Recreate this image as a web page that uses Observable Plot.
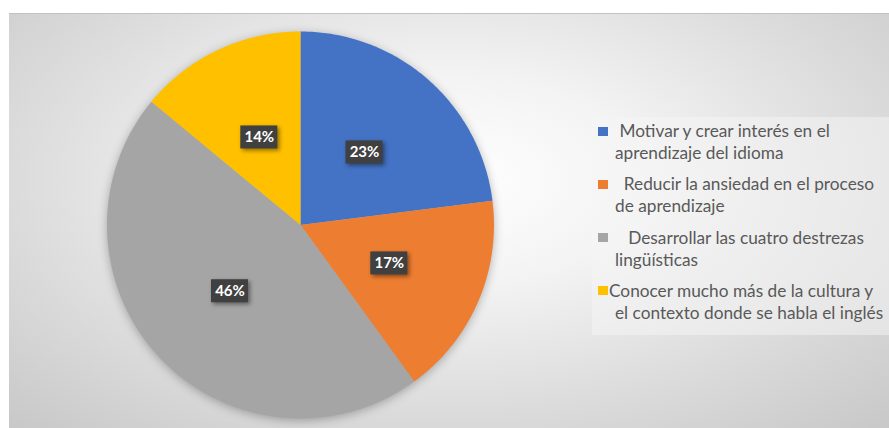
<!DOCTYPE html>
<html>
<head>
<meta charset="utf-8">
<script src="https://cdn.jsdelivr.net/npm/d3@7"></script>
<script src="https://cdn.jsdelivr.net/npm/@observablehq/plot@0.6"></script>
<style>
  html, body { margin: 0; padding: 0; background: #ffffff; }
  #wrap { position: relative; width: 889px; height: 428px; overflow: hidden; background: #fff; }
  #area { position: absolute; left: 9px; top: 13px; width: 880px; height: 415px;
          border-top: 1px solid #c2c2c2;
          background: radial-gradient(ellipse 75% 85% at 50% 40%, #ffffff 0%, #f3f3f3 30%, #dcdcdc 65%, #c6c6c6 100%); }
  #chart { position: absolute; left: 0; top: 0; }
  #legendbox { position: absolute; left: 592px; top: 117px; width: 297px; height: 218px; background: rgba(246,246,246,0.5); }
  .item { position: absolute; left: 0; width: 889px; font-family: Lato, "Open Sans", sans-serif; color: #595959; line-height: 22px; }
  .sw { position: absolute; left: 598px; width: 10px; height: 9px; }
  .ln { position: absolute; left: 615px; white-space: pre; }
</style>
</head>
<body>
<div id="wrap">
  <div id="area"></div>
  <div id="legendbox"></div>
  <div id="chart"></div>
  <div id="legend"></div>
</div>
<script>
// ---- data ----
const categories = [
  "Motivar y crear interés en el aprendizaje del idioma",
  "Reducir la ansiedad en el proceso de aprendizaje",
  "Desarrollar las cuatro destrezas lingüísticas",
  "Conocer mucho más de la cultura y el contexto donde se habla el inglés"
];
const legendLines = [
  [" Motivar y crear interés en el", "aprendizaje del idioma"],
  ["  Reducir la ansiedad en el proceso", "de aprendizaje"],
  ["   Desarrollar las cuatro destrezas", "lingüísticas"],
  ["Conocer mucho más de la cultura y", "el contexto donde se habla el inglés"]
];
const values = [23, 17, 46, 14];
const colors = ["#4472C4", "#ED7D31", "#A5A5A5", "#FFC000"];

// ---- geometry ----
const W = 889, H = 428, R = 193.5, CX = 300, CY = 224.5;
const total = d3.sum(values);
const arcs = d3.pie().sort(null).value(d => d.value).startAngle(0).endAngle(2 * Math.PI)(
  categories.map((name, i) => ({name, value: values[i]}))
);

const slicePts = [];
arcs.forEach(a => {
  const n = 120;
  slicePts.push({name: a.data.name, x: 0, y: 0});
  for (let k = 0; k <= n; k++) {
    const t = a.startAngle + (a.endAngle - a.startAngle) * k / n;
    slicePts.push({name: a.data.name, x: Math.sin(t), y: Math.cos(t)});
  }
  slicePts.push({name: a.data.name, x: 0, y: 0});
});

const labels = arcs.map(a => {
  const m = (a.startAngle + a.endAngle) / 2;
  return {name: a.data.name, x: 0.5 * Math.sin(m), y: 0.5 * Math.cos(m),
          text: Math.round(100 * a.data.value / total) + "%"};
});
const bw = 18.5 / R, bh = 11.5 / R;

const plot = Plot.plot({
  width: W, height: H, margin: 0,
  x: {domain: [-CX / R, (W - CX) / R], axis: null},
  y: {domain: [-(H - CY) / R, CY / R], axis: null},
  color: {domain: categories, range: colors},
  style: {background: "transparent", overflow: "visible"},
  marks: [
    Plot.line(slicePts, {x: "x", y: "y", z: "name", fill: "name", stroke: "none", curve: "linear"}),
    Plot.rect(labels, {x1: d => d.x - bw, x2: d => d.x + bw, y1: d => d.y - bh, y2: d => d.y + bh, fill: "#404040"}),
    Plot.text(labels, {x: "x", y: "y", text: "text", fill: "white", fontWeight: "bold", fontSize: 15,
                       fontFamily: "Lato, 'Open Sans', sans-serif"})
  ]
});
plot.querySelectorAll('g[aria-label="line"]').forEach(g => g.style.filter = "drop-shadow(0px 2px 5px rgba(0,0,0,0.28))");
plot.querySelectorAll('g[aria-label="rect"]').forEach(g => g.style.filter = "drop-shadow(2px 2px 2px rgba(0,0,0,0.45))");
document.getElementById("chart").appendChild(plot);

// ---- legend ----
const cvs = document.createElement("canvas").getContext("2d");
let fs = 16;
for (let s = 12; s <= 22; s += 0.25) {
  cvs.font = s + "px Lato";
  if (cvs.measureText(legendLines[3][0]).width <= 272 && cvs.measureText(legendLines[3][1]).width <= 271) fs = s;
}
const legend = document.getElementById("legend");
legendLines.forEach((lines, i) => {
  const top = 120 + i * 53.3;
  const item = document.createElement("div");
  item.className = "item";
  item.style.top = top + "px";
  item.style.fontSize = fs + "px";
  const sw = document.createElement("div");
  sw.className = "sw";
  sw.style.top = "6.5px";
  sw.style.background = colors[i];
  item.appendChild(sw);
  lines.forEach((t, j) => {
    const ln = document.createElement("div");
    ln.className = "ln";
    ln.style.top = (j * 22) + "px";
    if (j === 0 && t[0] !== " ") ln.style.left = "609px";
    ln.textContent = t;
    item.appendChild(ln);
  });
  legend.appendChild(item);
});
</script>
</body>
</html>
